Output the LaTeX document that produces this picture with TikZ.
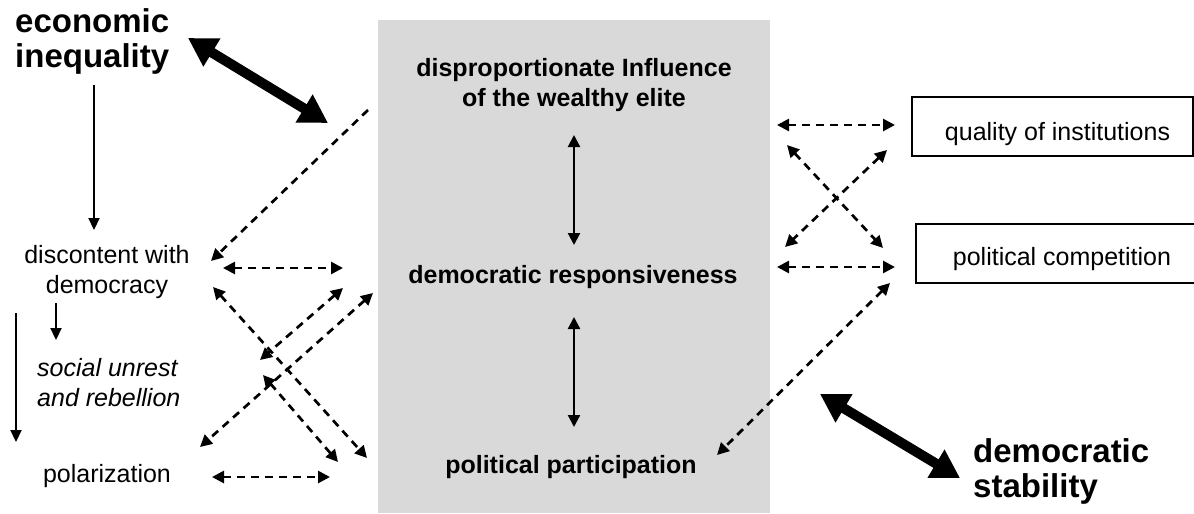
\documentclass[tikz,border=0pt]{standalone}
\usepackage{fontspec}
\setmainfont{Liberation Sans}
\usetikzlibrary{arrows.meta}
\definecolor{panelgray}{RGB}{217,217,217}
\begin{document}
\begin{tikzpicture}[x=1pt,y=-1pt,
  reg/.style={font=\fontsize{25}{30}\selectfont, inner sep=0pt, align=center},
  bld/.style={font=\fontsize{25}{30}\selectfont\bfseries, inner sep=0pt, align=center},
  big/.style={font=\fontsize{33}{35}\selectfont\bfseries, inner sep=0pt, align=left},
  frame/.style={draw=black, line width=1.2pt, inner sep=0pt},
  dsh/.style={line width=2.7pt, dash pattern=on 8pt off 6pt,
     {Triangle[length=12pt,width=12pt]}-{Triangle[length=12pt,width=12pt]}},
  dshone/.style={line width=2.7pt, dash pattern=on 8pt off 6pt,
     -{Triangle[length=12pt,width=12pt]}},
  thin/.style={line width=2.2pt, -{Triangle[length=12pt,width=11pt]}},
  thintwo/.style={line width=2.2pt, {Triangle[length=12pt,width=12pt]}-{Triangle[length=12pt,width=12pt]}},
  thick/.style={line width=10pt, {Triangle[length=28pt,width=31pt]}-{Triangle[length=28pt,width=31pt]}}
]
\useasboundingbox (0,0) rectangle (1194,514);
\clip (0,0) rectangle (1194,514);

% central panel
\node[fill=panelgray, minimum width=392pt, minimum height=493pt, inner sep=0pt, anchor=north west] (panel) at (378,20) {};

% texts (base anchor = baseline of the last line)
\node[big, anchor=base west] (econ) at (15,67) {economic\\inequality};
\node[big, anchor=base west] (stab) at (973,497) {democratic\\stability};
\node[bld, anchor=base] (infl) at (574,106) {disproportionate Influence\\of the wealthy elite};
\node[bld, anchor=base] (resp) at (573,283) {democratic responsiveness};
\node[bld, anchor=base] (part) at (571,473) {political participation};
\node[reg, anchor=base] (disc) at (107,293) {discontent with\\democracy};
\node[reg, align=left, anchor=base west, font=\fontsize{25}{30}\selectfont\itshape] (unrest) at (37,406) {social unrest\\and rebellion};
\node[reg, anchor=base] (polar) at (107,482) {polarization};

\node[frame, minimum width=281pt, minimum height=59pt] (qualbox) at (1052.5,126.5) {};
\node[reg, anchor=base] (qual) at (1057.5,140) {quality of institutions};
\node[frame, minimum width=290pt, minimum height=59pt] (compbox) at (1061,253.5) {};
\node[reg, anchor=base] (comp) at (1062,265) {political competition};

% connector end points
\coordinate (eA) at (188,38);   \coordinate (eB) at (328,123);
\coordinate (sA) at (820,394);  \coordinate (sB) at (960,478);
\coordinate (eD1) at (94,85);   \coordinate (eD2) at (94,230);
\coordinate (dU1) at (56,303);  \coordinate (dU2) at (56,340);
\coordinate (dP1) at (16,313);  \coordinate (dP2) at (16,442);
\coordinate (iR1) at (574,135); \coordinate (iR2) at (574,245);
\coordinate (rP1) at (574,317); \coordinate (rP2) at (574,427);

\coordinate (iD1) at (368,110); \coordinate (iD2) at (211,261);
\coordinate (dR1) at (223,268); \coordinate (dR2) at (343,268);
\coordinate (dPa1) at (213,287); \coordinate (dPa2) at (367,458);
\coordinate (rU1) at (343,288); \coordinate (rU2) at (260,360);
\coordinate (rPo1) at (373,293); \coordinate (rPo2) at (200,447);
\coordinate (uP1) at (263,375); \coordinate (uP2) at (338,462);
\coordinate (poP1) at (212,477); \coordinate (poP2) at (330,477);

\coordinate (iQ1) at (777,125); \coordinate (iQ2) at (895,125);
\coordinate (iC1) at (787,145); \coordinate (iC2) at (883,248);
\coordinate (qR1) at (887,150); \coordinate (qR2) at (785,247);
\coordinate (rC1) at (777,267); \coordinate (rC2) at (895,267);
\coordinate (cP1) at (890,283); \coordinate (cP2) at (717,455);

% thick arrows
\draw[thick] (eA) -- (eB);
\draw[thick] (sA) -- (sB);

% solid arrows
\draw[thin] (eD1) -- (eD2);
\draw[thin] (dU1) -- (dU2);
\draw[thin] (dP1) -- (dP2);
\draw[thintwo] (iR1) -- (iR2);
\draw[thintwo] (rP1) -- (rP2);

% dashed arrows, left
\draw[dshone] (iD1) -- (iD2);
\draw[dsh] (dR1) -- (dR2);
\draw[dsh] (dPa1) -- (dPa2);
\draw[dsh] (rU1) -- (rU2);
\draw[dsh] (rPo1) -- (rPo2);
\draw[dsh] (uP1) -- (uP2);
\draw[dsh] (poP1) -- (poP2);

% dashed arrows, right
\draw[dsh] (iQ1) -- (iQ2);
\draw[dsh] (iC1) -- (iC2);
\draw[dsh] (qR1) -- (qR2);
\draw[dsh] (rC1) -- (rC2);
\draw[dsh] (cP1) -- (cP2);
\end{tikzpicture}
\end{document}
